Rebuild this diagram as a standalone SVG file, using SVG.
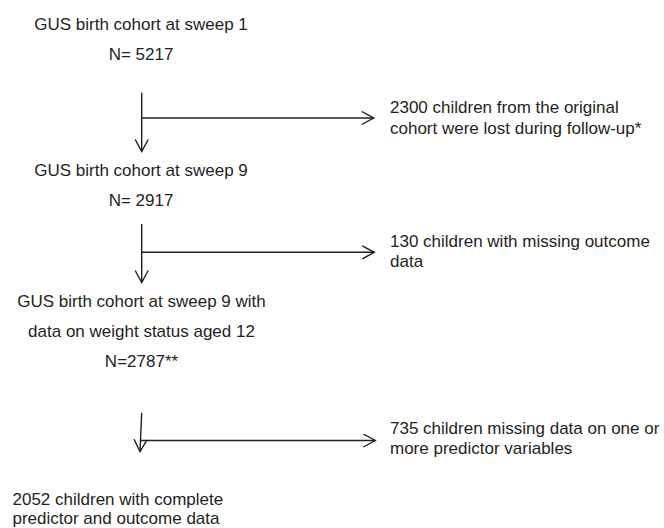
<svg xmlns="http://www.w3.org/2000/svg" width="664" height="528" viewBox="0 0 664 528">
<style>
text{font-family:"Liberation Sans",Arial,sans-serif;font-size:17px;fill:#231f20}
.c{text-anchor:middle}
.ln{stroke:#231f20;stroke-width:1.4;fill:none}
</style>
<defs>
<marker id="ah" markerWidth="16" markerHeight="16" refX="13" refY="7" orient="auto" markerUnits="userSpaceOnUse">
<path d="M1,0.5 L13,7 L1,13.5" fill="none" stroke="#231f20" stroke-width="1.4"/>
</marker>
</defs>
<rect width="664" height="528" fill="#fff"/>
<g id="n1"><text class="c" x="141" y="29.5">GUS birth cohort at sweep 1</text><text class="c" x="141" y="59.5">N= 5217</text></g>
<g id="e1"><text x="390" y="112.5">2300 children from the original</text><text x="390" y="134">cohort were lost during follow-up*</text></g>
<g id="n2"><text class="c" x="141" y="176">GUS birth cohort at sweep 9</text><text class="c" x="141" y="206">N= 2917</text></g>
<g id="e2"><text x="390" y="246.5">130 children with missing outcome</text><text x="390" y="267">data</text></g>
<g id="n3"><text class="c" x="141.5" y="307">GUS birth cohort at sweep 9 with</text><text class="c" x="141.5" y="337">data on weight status aged 12</text><text class="c" x="141.5" y="367">N=2787**</text></g>
<g id="e3"><text x="390" y="433.5">735 children missing data on one or</text><text x="390" y="454">more predictor variables</text></g>
<g id="n4"><text x="12.5" y="505">2052 children with complete</text><text x="12.5" y="523.5">predictor and outcome data</text></g>
<g id="connectors">
<path class="ln" d="M141.7,92.7 L141.7,151.5" marker-end="url(#ah)"/>
<path class="ln" d="M141.7,118 L373.7,118" marker-end="url(#ah)"/>
<path class="ln" d="M141.7,224 L141.7,282.5" marker-end="url(#ah)"/>
<path class="ln" d="M141.7,252.3 L374.3,252.3" marker-end="url(#ah)"/>
<path class="ln" d="M141.7,412.7 L140,451.5" marker-end="url(#ah)"/>
<path class="ln" d="M141,440.5 L375.3,440.5" marker-end="url(#ah)"/>
</g>
</svg>
